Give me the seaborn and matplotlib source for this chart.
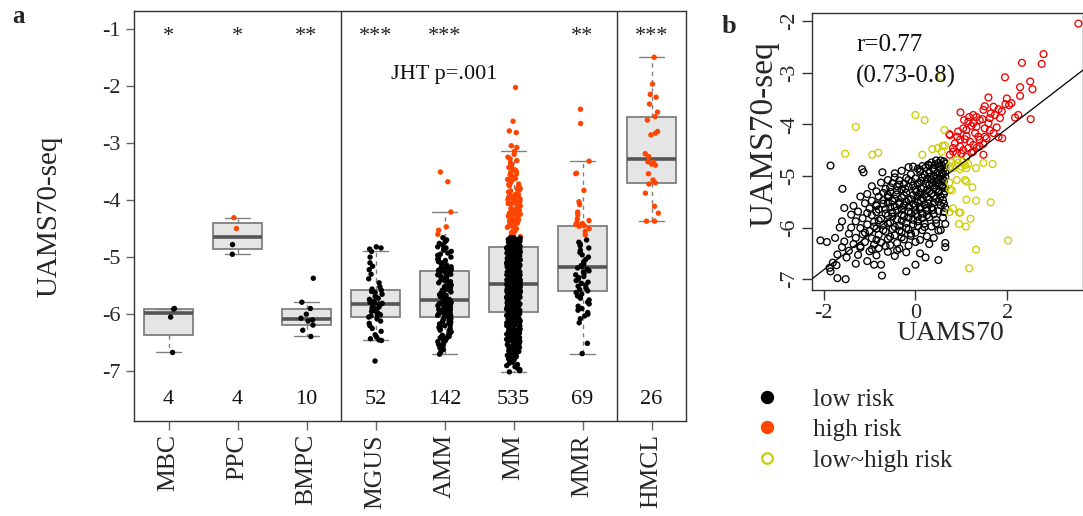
import numpy as np
import pandas as pd
import matplotlib
matplotlib.use("Agg")
import matplotlib.pyplot as plt
import seaborn as sns
from matplotlib.lines import Line2D

sns.set_theme(style="ticks")
plt.rcParams['font.family'] = ['Liberation Serif', 'DejaVu Serif']
plt.rcParams['axes.unicode_minus'] = False

# ---------------- panel a data ----------------
groups = ["MBC", "PPC", "BMPC", "MGUS", "AMM", "MM", "MMR", "HMCL"]
sig_labels = ["*", "*", "**", "***", "***", "", "**", "***"]
risk_cut = -4.66
jht_text = "JHT p=.001"

mbc_values = [-5.90, -5.91, -6.05, -6.67]
ppc_values = [-4.31, -4.50, -4.78, -4.95]
bmpc_values = [-5.37, -5.79, -5.90, -6.00, -6.07, -6.10, -6.12, -6.19, -6.28, -6.39]
mgus_values = [-4.82, -4.84, -4.86, -4.90, -5.00, -5.10, -5.16, -5.22, -5.30, -5.38, -5.45, -5.52, -5.56, -5.58,
               -5.60, -5.62, -5.65, -5.68, -5.70, -5.72, -5.74, -5.76, -5.78, -5.79, -5.80, -5.81,
               -5.82, -5.83, -5.85, -5.87, -5.89, -5.91, -5.93, -5.95, -5.97, -5.99, -6.01, -6.02,
               -6.03, -6.05,
               -6.08, -6.12, -6.16, -6.20, -6.25, -6.30, -6.36, -6.40, -6.43, -6.45, -6.46, -6.82]
amm_values = [-3.51, -3.68, -4.21, -4.47, -4.53, -4.60,
              -4.66, -4.70, -4.73, -4.76, -4.79, -4.82, -4.84, -4.86, -4.88, -4.90, -4.93, -4.95, -4.97, -5.00,
              -5.02, -5.04, -5.06, -5.08, -5.10, -5.12, -5.14, -5.15, -5.17, -5.18, -5.19, -5.20, -5.21, -5.22, -5.23,
              -5.24,
              -5.25, -5.27, -5.28, -5.30, -5.31, -5.33, -5.34, -5.36, -5.37, -5.39, -5.40, -5.42, -5.43, -5.45, -5.46,
              -5.48, -5.49, -5.51, -5.52, -5.54, -5.55, -5.57, -5.58, -5.60, -5.61, -5.63, -5.64, -5.66, -5.67, -5.69,
              -5.70, -5.72, -5.73, -5.74, -5.75,
              -5.76, -5.77, -5.78, -5.79, -5.80, -5.80, -5.81, -5.82, -5.83, -5.84, -5.85, -5.86, -5.86, -5.87, -5.88,
              -5.89, -5.90, -5.91, -5.91, -5.92, -5.93, -5.94, -5.95, -5.95, -5.96, -5.97, -5.98, -5.98, -5.99, -6.00,
              -6.00, -6.01, -6.02, -6.02, -6.03,
              -6.04,
              -6.05, -6.07, -6.08, -6.10, -6.11, -6.13, -6.14, -6.16, -6.17, -6.19, -6.20, -6.22, -6.23, -6.25, -6.26,
              -6.28, -6.29, -6.31, -6.32, -6.34, -6.36, -6.37, -6.39, -6.41, -6.42, -6.44, -6.46, -6.48, -6.50, -6.53,
              -6.56, -6.59, -6.62, -6.66, -6.70]
mm_values = [-2.03, -2.62, -2.79, -2.82, -3.05, -3.08,
             -3.15, -3.20, -3.25, -3.28, -3.31, -3.35, -3.38, -3.41, -3.43, -3.46, -3.48, -3.50, -3.52, -3.54,
             -3.56, -3.58, -3.60, -3.62, -3.64, -3.66, -3.68, -3.70, -3.72, -3.73, -3.75, -3.77, -3.78, -3.80, -3.81,
             -3.83, -3.84, -3.86, -3.87, -3.89,
             -3.90, -3.91, -3.93, -3.94, -3.95, -3.97, -3.98, -3.99, -4.01, -4.02, -4.03, -4.05, -4.06, -4.07, -4.08,
             -4.10, -4.11, -4.12, -4.13, -4.15,
             -4.16, -4.17, -4.18, -4.19, -4.21, -4.22, -4.23, -4.24, -4.25, -4.27, -4.28, -4.29, -4.30, -4.31, -4.32,
             -4.34, -4.35, -4.36, -4.37, -4.38,
             -4.39, -4.40, -4.41, -4.43, -4.44, -4.45, -4.46, -4.47, -4.48, -4.49, -4.50, -4.52, -4.53, -4.54, -4.55,
             -4.57, -4.58, -4.60, -4.62, -4.64,
             -4.66, -4.66, -4.67, -4.67, -4.68, -4.68, -4.69, -4.69, -4.70, -4.70, -4.71, -4.71, -4.72, -4.72, -4.73,
             -4.73, -4.74, -4.74, -4.75, -4.75, -4.76, -4.76, -4.77, -4.77, -4.78, -4.78, -4.79, -4.79, -4.80, -4.80,
             -4.81, -4.81, -4.81, -4.81,
             -4.82, -4.82, -4.83, -4.83, -4.84, -4.84, -4.85, -4.85, -4.86, -4.86, -4.87, -4.87, -4.88, -4.88, -4.89,
             -4.89, -4.90, -4.90, -4.91, -4.91,
             -4.92, -4.92, -4.93, -4.93, -4.94, -4.94, -4.95, -4.95, -4.96, -4.96, -4.97, -4.97, -4.98, -4.98, -4.99,
             -4.99, -5.00, -5.00, -5.00, -5.01, -5.01,
             -5.02, -5.02, -5.03, -5.03, -5.04, -5.04, -5.05, -5.05, -5.06, -5.06, -5.07, -5.07, -5.08, -5.08, -5.09,
             -5.09, -5.10, -5.10, -5.11, -5.11,
             -5.12, -5.12, -5.13, -5.13, -5.14, -5.14, -5.15, -5.15, -5.16, -5.16, -5.17, -5.17, -5.18, -5.18, -5.19,
             -5.19, -5.20, -5.20, -5.20, -5.21, -5.21,
             -5.22, -5.22, -5.23, -5.23, -5.24, -5.24, -5.25, -5.25, -5.26, -5.26, -5.27, -5.27, -5.28, -5.28, -5.29,
             -5.29, -5.30, -5.30, -5.31, -5.31,
             -5.32, -5.32, -5.33, -5.33, -5.34, -5.34, -5.35, -5.35, -5.36, -5.36, -5.37, -5.37, -5.38, -5.38, -5.39,
             -5.39, -5.40, -5.40, -5.40, -5.41, -5.41,
             -5.42, -5.42, -5.43, -5.43, -5.44, -5.44, -5.45, -5.45, -5.46, -5.46,
             -5.47, -5.48, -5.49,
             -5.50, -5.50, -5.50, -5.51, -5.51, -5.51, -5.52, -5.52, -5.52, -5.53, -5.53, -5.53, -5.54, -5.54, -5.54,
             -5.55, -5.55, -5.55, -5.56, -5.56, -5.56, -5.57, -5.57, -5.57, -5.58, -5.58, -5.58, -5.59, -5.59, -5.59,
             -5.60, -5.60, -5.60, -5.61, -5.61, -5.61, -5.62, -5.62, -5.62, -5.63, -5.63, -5.63, -5.64, -5.64, -5.64,
             -5.65, -5.65, -5.65, -5.66, -5.66, -5.66, -5.67, -5.67, -5.67, -5.68, -5.68, -5.68, -5.69, -5.69, -5.69,
             -5.70, -5.70, -5.70, -5.71, -5.71, -5.71, -5.72, -5.72, -5.72, -5.73, -5.73, -5.73, -5.74, -5.74, -5.74,
             -5.75, -5.75, -5.75, -5.76, -5.76, -5.76, -5.77, -5.77, -5.77, -5.78, -5.78, -5.78, -5.79, -5.79, -5.79,
             -5.80, -5.80, -5.80, -5.81, -5.81, -5.81, -5.82, -5.82, -5.82, -5.83, -5.83, -5.83, -5.84, -5.84, -5.84,
             -5.85, -5.85, -5.85, -5.86, -5.86, -5.86, -5.87, -5.87, -5.87, -5.88, -5.88, -5.88, -5.89, -5.89, -5.89,
             -5.90, -5.90, -5.90,
             -5.91, -5.92, -5.92, -5.93, -5.94, -5.94, -5.95,
             -5.96, -5.96, -5.97, -5.97, -5.97, -5.98, -5.98, -5.99, -5.99, -6.00,
             -6.00, -6.01, -6.01, -6.02, -6.02, -6.03, -6.03, -6.04, -6.04, -6.05, -6.05, -6.05, -6.06, -6.06, -6.07,
             -6.07, -6.08, -6.08, -6.09, -6.09, -6.10, -6.10,
             -6.11, -6.11, -6.12, -6.12, -6.13, -6.13, -6.14, -6.14, -6.15, -6.15, -6.16, -6.16, -6.17, -6.17, -6.18,
             -6.18, -6.19, -6.19, -6.20, -6.20,
             -6.21, -6.21, -6.22, -6.22, -6.23, -6.23, -6.24, -6.25, -6.25, -6.26, -6.26, -6.27, -6.28, -6.28, -6.29,
             -6.29, -6.30, -6.30,
             -6.31, -6.31, -6.32, -6.33, -6.33, -6.34, -6.35, -6.35, -6.36, -6.37, -6.37, -6.38, -6.39, -6.39, -6.40,
             -6.41, -6.41, -6.42, -6.43, -6.44, -6.44, -6.45, -6.46, -6.47, -6.47, -6.48, -6.49, -6.50,
             -6.51, -6.52, -6.53, -6.53, -6.54, -6.55, -6.56, -6.57, -6.58, -6.59, -6.60,
             -6.61, -6.62, -6.63, -6.64, -6.65, -6.66, -6.67, -6.68, -6.70,
             -6.71, -6.72, -6.74, -6.75, -6.77, -6.78, -6.80,
             -6.82, -6.84, -6.86, -6.88, -6.90,
             -6.92, -6.95, -6.97, -6.99, -7.01]
mmr_values = [-2.41, -2.66, -3.32, -3.53, -3.54, -3.83, -4.03, -4.08, -4.21, -4.26, -4.33, -4.36, -4.39, -4.41,
              -4.43, -4.44, -4.45, -4.46, -4.50, -4.55, -4.61,
              -4.70, -4.74, -4.77, -4.80, -4.84, -4.88, -4.92, -4.96, -5.00, -5.04, -5.08, -5.12, -5.15,
              -5.17,
              -5.19, -5.21, -5.24, -5.26, -5.29, -5.31, -5.34, -5.36, -5.39, -5.41, -5.44, -5.46, -5.49, -5.51, -5.54,
              -5.57,
              -5.59,
              -5.62, -5.65, -5.68, -5.72, -5.75, -5.79, -5.82, -5.86, -5.90, -5.93, -5.97, -6.00, -6.03, -6.08, -6.15,
              -6.51, -6.69]
hmcl_values = [-1.50, -1.97, -2.15, -2.20, -2.32, -2.46, -2.54, -2.60, -2.80, -2.83, -2.86, -3.19, -3.24,
               -3.33, -3.34, -3.37, -3.39, -3.54, -3.65, -3.70, -3.72, -3.88, -4.11, -4.23, -4.37, -4.37]
group_values = [mbc_values, ppc_values, bmpc_values, mgus_values, amm_values, mm_values, mmr_values, hmcl_values]

# ---------------- panel b data (UAMS70 vs UAMS70-seq) ----------------
b_low_points = [
    (0.45, -4.70), (0.55, -4.70), (0.62, -4.72), (0.35, -4.74), (0.50, -4.75), (0.65, -4.76), (0.28, -4.78),
    (0.42, -4.79), (0.58, -4.80), (0.15, -4.81), (-0.05, -4.82), (-0.15, -4.83), (0.22, -4.84), (0.38, -4.85),
    (0.63, -4.85), (0.05, -4.86),
    (-1.85, -4.80), (-1.16, -4.87), (-1.13, -4.93), (-0.72, -4.93), (-1.59, -5.25),
    (-0.30, -4.90), (0.10, -4.92), (0.30, -4.93), (0.48, -4.94), (0.60, -4.95), (-0.10, -4.97), (0.20, -4.98),
    (0.40, -5.00), (0.55, -5.01), (0.65, -5.02), (-0.45, -5.03), (-0.20, -5.04), (0.00, -5.05), (0.25, -5.06),
    (0.35, -5.07), (0.50, -5.08), (-0.60, -5.08), (-0.35, -5.09), (0.12, -5.10), (0.62, -5.10), (-0.08, -5.11),
    (0.45, -5.12),
    (-0.75, -5.13), (-0.50, -5.14), (-0.25, -5.15), (0.05, -5.16), (0.30, -5.17), (0.58, -5.18), (-0.95, -5.20),
    (-0.40, -5.20), (-0.15, -5.21), (0.18, -5.22), (0.40, -5.23), (0.65, -5.24), (-0.65, -5.25), (-0.30, -5.26),
    (0.00, -5.27), (0.25, -5.28), (0.52, -5.29), (-0.85, -5.30), (-0.55, -5.31), (-0.20, -5.32), (0.10, -5.33),
    (0.35, -5.34), (0.62, -5.35), (-1.05, -5.35), (-0.42, -5.36), (-0.05, -5.37),
    (-1.20, -5.40), (-0.80, -5.40), (-0.60, -5.41), (-0.30, -5.42), (0.15, -5.43), (0.45, -5.44), (-0.10, -5.45),
    (0.30, -5.46), (0.60, -5.47), (-0.95, -5.48), (-0.50, -5.49), (-0.20, -5.50), (0.05, -5.51), (0.40, -5.52),
    (-1.10, -5.53), (-0.70, -5.54), (-0.35, -5.55), (0.20, -5.56), (0.55, -5.57), (-1.35, -5.58), (-0.85, -5.58),
    (-0.45, -5.59), (-0.15, -5.60), (0.10, -5.60), (0.35, -5.61), (0.65, -5.62),
    (-1.55, -5.62), (-1.00, -5.63), (-0.65, -5.64), (-0.30, -5.65), (0.00, -5.66), (0.25, -5.67), (0.50, -5.68),
    (-1.25, -5.69), (-0.85, -5.70), (-0.50, -5.71), (-0.10, -5.72), (0.15, -5.73), (0.40, -5.74), (-1.40, -5.75),
    (-0.95, -5.76), (-0.60, -5.77), (-0.25, -5.78), (0.05, -5.79), (0.30, -5.80), (0.60, -5.81), (-1.15, -5.82),
    (-0.75, -5.83), (-0.40, -5.84), (-0.05, -5.85), (0.45, -5.85),
    (-1.60, -5.88), (-1.30, -5.88), (-0.90, -5.89), (-0.55, -5.90), (-0.20, -5.91), (0.20, -5.92), (0.65, -5.93),
    (-1.05, -5.94), (-0.70, -5.95), (-0.35, -5.96), (0.05, -5.97), (0.35, -5.98), (-1.65, -6.00), (-1.40, -6.00),
    (-1.20, -6.01), (-0.85, -6.02), (-0.50, -6.03), (-0.15, -6.04), (0.15, -6.05), (0.50, -6.06), (-1.00, -6.07),
    (-0.65, -6.08), (-0.30, -6.09), (0.00, -6.10),
    (-1.45, -6.12), (-1.15, -6.13), (-0.80, -6.14), (-0.45, -6.15), (-0.10, -6.16), (0.25, -6.17), (-1.75, -6.20),
    (-1.30, -6.20), (-0.95, -6.21), (-0.60, -6.22), (-0.25, -6.23), (0.10, -6.24), (-2.07, -6.25), (-1.93, -6.28),
    (-1.55, -6.27), (-1.10, -6.28), (-0.75, -6.29), (-0.40, -6.30), (0.65, -6.30), (-1.35, -6.32), (-0.90, -6.33),
    (-0.55, -6.34), (-0.15, -6.35), (0.30, -6.32),
    (-1.60, -6.38), (-1.20, -6.39), (-0.80, -6.40), (-0.35, -6.41), (0.65, -6.38), (-1.45, -6.45), (-1.00, -6.46),
    (-0.60, -6.47), (-0.20, -6.48), (0.10, -6.50), (-1.70, -6.52), (-1.25, -6.53), (-0.85, -6.54), (-0.45, -6.55),
    (0.22, -6.58), (-1.50, -6.58), (0.50, -6.63),
    (-1.80, -6.68), (-1.72, -6.73), (-1.87, -6.78), (-1.85, -6.85), (-0.90, -6.72), (-0.75, -6.72), (-0.73, -6.93),
    (-0.20, -6.85), (0.00, -6.72), (-1.70, -6.98), (-1.52, -7.00), (-1.30, -6.70), (-1.05, -6.65),
    (0.55, -4.88), (0.40, -4.89), (0.58, -4.97), (0.32, -5.02), (0.15, -5.03), (0.45, -5.05), (0.60, -5.06),
    (-0.15, -5.08), (0.08, -5.13), (0.50, -5.14), (0.22, -5.15), (-0.35, -5.17), (0.38, -5.19), (-0.05, -5.19),
    (0.60, -5.21), (-0.55, -5.22), (0.12, -5.24), (-0.22, -5.25), (0.45, -5.26), (0.30, -5.30), (-0.40, -5.28),
    (0.02, -5.31), (-0.70, -5.33), (0.50, -5.32), (0.20, -5.36), (-0.25, -5.38), (-0.60, -5.37), (0.40, -5.39),
    (0.05, -5.40), (-0.45, -5.44), (0.25, -5.41), (0.55, -5.40), (-0.15, -5.46), (-0.70, -5.47), (0.12, -5.48),
    (-0.35, -5.51), (0.50, -5.50), (-0.60, -5.52), (0.28, -5.53), (-0.05, -5.54), (-0.85, -5.55), (0.62, -5.54),
    (-0.25, -5.57), (0.00, -5.58), (-0.55, -5.61), (0.25, -5.62), (-0.80, -5.65), (-0.40, -5.67), (0.10, -5.64),
    (-0.15, -5.69), (0.38, -5.66), (-0.65, -5.73), (0.00, -5.74), (-0.30, -5.75), (0.25, -5.76), (-1.05, -5.72),
    (-0.50, -5.79), (-0.15, -5.81), (0.15, -5.82), (-0.80, -5.86), (-0.30, -5.87), (0.05, -5.88), (-0.60, -5.92),
    (-0.05, -5.94), (-0.90, -5.98), (-0.45, -5.99), (0.20, -5.99), (-0.20, -6.01), (-0.70, -6.05), (-0.35, -6.06),
    (-1.10, -6.10), (-0.10, -6.12), (-0.55, -6.18), (-0.85, -6.24), (-0.30, -6.19), (0.00, -6.28), (-1.20, -6.36),
    (-0.65, -6.36), (-0.95, -6.42), (-0.40, -6.44), (0.45, -5.92), (0.40, -6.20), (0.55, -6.05), (0.62, -5.70),
    (0.64, -5.30), (0.65, -4.92), (0.52, -4.83), (0.30, -4.80), (0.10, -4.88), (-0.45, -4.95)]
b_high_points = [
    (3.55, -2.05), (2.79, -2.64), (2.75, -2.83), (2.32, -2.81), (1.95, -3.09), (2.50, -3.17), (2.55, -3.32),
    (2.28, -3.28), (2.28, -3.45), (1.59, -3.48), (1.99, -3.50), (1.96, -3.61), (2.04, -3.63), (2.09, -3.59),
    (2.24, -3.82), (2.17, -3.87), (2.51, -3.90), (1.70, -3.66), (1.81, -3.71), (1.48, -3.72), (1.64, -3.79),
    (1.84, -3.88), (0.98, -3.77), (1.17, -3.86), (1.33, -3.86), (1.46, -3.90), (1.59, -3.98), (1.77, -4.06),
    (1.89, -4.27), (1.81, -4.25), (1.55, -4.27), (1.48, -4.38), (1.40, -4.43), (1.22, -4.03), (1.11, -4.11),
    (1.04, -4.08), (0.91, -4.24), (0.75, -4.21), (0.74, -4.19), (0.86, -4.37), (0.97, -4.30), (1.08, -4.29),
    (1.19, -4.34), (1.26, -4.40), (1.33, -4.46), (1.15, -4.46), (1.04, -4.50), (0.82, -4.46), (0.90, -4.56),
    (1.00, -4.57), (1.22, -4.55), (1.48, -4.59), (0.75, -4.59), (0.82, -4.53), (1.30, -4.17), (1.37, -4.24),
    (1.51, -4.08), (1.26, -3.98), (0.93, -4.14), (1.11, -4.23), (0.97, -4.43), (1.11, -4.63), (1.26, -4.53),
    (1.40, -4.30), (1.62, -4.12), (1.70, -4.17), (1.51, -4.24), (1.33, -4.05), (1.15, -3.95), (1.06, -3.92),
    (1.26, -3.82), (1.40, -3.92), (1.62, -3.88), (1.73, -3.82), (1.88, -3.75), (1.51, -3.65)]
b_mixed_points = [
    (0.55, -3.08), (0.00, -3.82), (0.20, -3.92), (-1.30, -4.05), (-1.53, -4.57), (-0.94, -4.59), (-0.81, -4.55),
    (0.15, -4.59), (0.37, -4.48), (0.49, -4.46), (0.59, -4.42), (0.64, -4.41), (0.57, -4.53), (0.63, -4.11),
    (0.79, -4.74), (0.86, -4.79), (0.93, -4.75), (1.00, -4.82), (1.08, -4.79), (0.82, -4.85), (0.97, -4.87),
    (1.11, -4.85), (0.90, -4.69), (1.04, -4.72), (1.15, -4.77), (0.75, -4.82), (1.32, -4.85), (1.48, -4.75),
    (1.68, -4.77), (1.08, -5.08), (1.11, -5.11), (0.90, -5.08), (0.74, -5.13), (0.75, -5.26), (0.79, -5.28),
    (1.24, -5.22), (1.11, -5.46), (1.32, -5.48), (1.64, -5.51), (0.82, -5.63), (0.74, -5.70), (0.95, -5.71),
    (0.98, -5.71), (1.20, -5.83), (1.10, -5.98), (0.95, -5.93), (2.02, -6.25), (1.32, -6.43), (1.17, -6.79)]
fit_intercept = -5.45
fit_slope = 0.685
corr_text = "r=0.77"
ci_text = "(0.73-0.8)"
legend_labels = ["low risk", "high risk", "low~high risk"]

# ---------------- colours ----------------
col_low = "#000000"
col_high_a = "#FF4500"
col_high_b = "#EE0000"
col_mixed = "#CDCD00"

# ---------------- helpers ----------------
def fivenum(v):
    v = np.sort(np.asarray(v, dtype=float))
    n = len(v)
    n4 = np.floor((n + 3) / 2) / 2
    d = np.array([1, n4, (n + 1) / 2, n + 1 - n4, n]) - 1
    return 0.5 * (v[np.floor(d).astype(int)] + v[np.ceil(d).astype(int)])


def r_box_stats(v):
    v = np.asarray(v, dtype=float)
    mn, q1, med, q3, mx = fivenum(v)
    iqr = q3 - q1
    lo = v[v >= q1 - 1.5 * iqr].min()
    hi = v[v <= q3 + 1.5 * iqr].max()
    return dict(med=med, q1=q1, q3=q3, whislo=lo, whishi=hi, fliers=[])


rows = []
for g, vals in zip(groups, group_values):
    for v in vals:
        rows.append((g, v, "high" if v > risk_cut else "low"))
df_a = pd.DataFrame(rows, columns=["group", "value", "risk"])

# ---------------- figure ----------------
W, H = 1083, 516
fig = plt.figure(figsize=(W / 100, H / 100), dpi=100)
fig.patch.set_facecolor("white")

# ===== panel a =====
ax = fig.add_axes([134 / W, 1 - 421 / H, (686 - 134) / W, (421 - 11) / H])
sns.stripplot(data=df_a, x="group", y="value", hue="risk", order=groups,
              hue_order=["low", "high"], palette={"low": col_low, "high": col_high_a},
              jitter=0.1, size=3.9, linewidth=0, legend=False, ax=ax, zorder=3)
positions = list(range(len(groups)))
ax.bxp([r_box_stats(v) for v in group_values], positions=positions, widths=0.7, capwidths=0.36,
       patch_artist=True, showfliers=False, manage_ticks=False, zorder=1,
       boxprops=dict(facecolor="#E5E5E5", edgecolor="#808080", linewidth=1.3),
       medianprops=dict(color="#555555", linewidth=2.6),
       whiskerprops=dict(color="#808080", linewidth=1.0, linestyle=(0, (3, 3))),
       capprops=dict(color="#808080", linewidth=1.0))
ax.set_xlim(-0.5, len(groups) - 0.5)
ax.set_ylim(-7.87, -0.69)
ax.set_yticks([-7, -6, -5, -4, -3, -2, -1])
ax.set_yticklabels(["-7", "-6", "-5", "-4", "-3", "-2", "-1"])
ax.set_xticks(positions)
ax.set_xticklabels(groups, rotation=90, fontsize=18.5)
ax.tick_params(axis="y", direction="out", length=6, width=1, color="#666666", labelsize=16, pad=3.5)
ax.tick_params(axis="x", direction="out", length=6.5, width=1, color="#666666", pad=3)
ax.set_xlabel("")
ax.set_ylabel("UAMS70-seq", fontsize=21)
ax.yaxis.set_label_coords(-0.129, 0.5)
for sp in ax.spines.values():
    sp.set_visible(True)
    sp.set_color("#333333")
    sp.set_linewidth(1.0)
for xb in [2.5, 6.5]:
    ax.axvline(xb, color="#333333", lw=1.0, zorder=2)
for i, (s, vals) in enumerate(zip(sig_labels, group_values)):
    if s:
        ax.text(i, -1.21, s, ha="center", va="baseline", fontsize=16, color="#222222")
    ax.text(i, -7.57, str(len(vals)), ha="center", va="baseline", fontsize=16, color="#111111")
ax.text(4, -1.88, jht_text, ha="center", va="baseline", fontsize=16, color="#111111")

# ===== panel b =====
axb = fig.add_axes([811.7 / W, 1 - 290 / H, (W - 811.7) / W, (290 - 13.3) / H])
for pts, col in [(b_low_points, col_low), (b_high_points, col_high_b), (b_mixed_points, col_mixed)]:
    d = pd.DataFrame(pts, columns=["UAMS70", "UAMS70-seq"])
    sns.scatterplot(data=d, x="UAMS70", y="UAMS70-seq", ax=axb, marker="o", s=24,
                    facecolor="none", edgecolor=col, linewidth=0.95, legend=False)
axb.axline((0, fit_intercept), slope=fit_slope, color="black", lw=0.9, zorder=5)
axb.set_xlim(-2.26, 3.65)
axb.set_ylim(-7.21, -1.85)
axb.set_xticks([-2, 0, 2])
axb.set_xticklabels(["-2", "0", "2"])
axb.set_yticks([-7, -6, -5, -4, -3, -2])
axb.set_yticklabels(["-7", "-6", "-5", "-4", "-3", "-2"], rotation=90, va="center")
axb.tick_params(axis="both", direction="out", length=7, width=1, color="#333333", labelsize=16)
axb.tick_params(axis="y", pad=2)
axb.tick_params(axis="x", pad=3)
axb.set_xlabel("UAMS70", fontsize=20)
axb.set_ylabel("UAMS70-seq", fontsize=24)
axb.xaxis.set_label_coords(0.51, -0.112)
axb.yaxis.set_label_coords(-0.12, 0.564)
for sp in axb.spines.values():
    sp.set_visible(True)
    sp.set_color("#333333")
    sp.set_linewidth(1.0)
axb.text(-1.29, -2.46, corr_text, ha="left", va="center", fontsize=18, color="#111111")
axb.text(-1.29, -3.08, ci_text, ha="left", va="center", fontsize=18, color="#111111")

handles = [
    Line2D([], [], marker="o", linestyle="none", markersize=8.6, markerfacecolor=col_low, markeredgecolor=col_low),
    Line2D([], [], marker="o", linestyle="none", markersize=8.6, markerfacecolor=col_high_a, markeredgecolor=col_high_a),
    Line2D([], [], marker="o", linestyle="none", markersize=7.6, markerfacecolor="none", markeredgecolor=col_mixed,
           markeredgewidth=1.6),
]
fig.legend(handles, legend_labels, loc="upper left", bbox_to_anchor=(754 / W, 1 - 388 / H),
           frameon=False, fontsize=18, handlelength=1.0, handletextpad=1.35, labelspacing=0.32,
           borderpad=0, borderaxespad=0)

fig.text(18.5 / W, 1 - 23 / H, "a", fontsize=18, fontweight="bold", ha="center", va="baseline")
fig.text(728.5 / W, 1 - 33 / H, "b", fontsize=19, fontweight="bold", ha="center", va="baseline")

fig.savefig("out.png", dpi=100, facecolor="white")
